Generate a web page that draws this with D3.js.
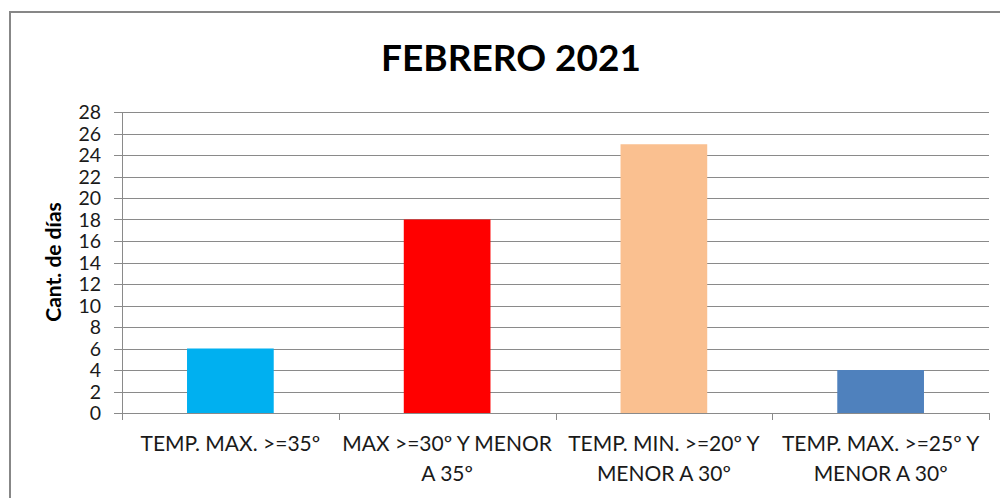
<!DOCTYPE html>
<html>
<head>
<meta charset="utf-8">
<script src="https://cdn.jsdelivr.net/npm/d3@7"></script>
<style>
  html, body { margin: 0; padding: 0; background: #fff; }
  svg { display: block; font-family: Lato, "Open Sans", sans-serif; }
</style>
</head>
<body>
<div id="plot"></div>
<script>
// chart data
const categories = [
    "TEMP. MAX. >=35º",
    "MAX >=30º Y MENOR\nA 35º",
    "TEMP. MIN. >=20º Y\nMENOR A 30º",
    "TEMP. MAX. >=25º Y\nMENOR A 30º"
];
const values = [6, 18, 25, 4];
const barColors = ["#00B0F0", "#FF0000", "#FAC090", "#4F81BD"];
const yTicks = d3.range(0, 29, 2);

const width = 1000;
const height = 498;
const margin = {top: 112, right: 11, bottom: 85, left: 122};

const svg = d3.select("div#plot")
    .append("svg")
    .attr("width", width)
    .attr("height", height);

// outer chart frame (runs off the right and bottom edges)
svg.append("rect")
    .attr("x", 10)
    .attr("y", 12)
    .attr("width", 1100)
    .attr("height", 600)
    .attr("fill", "none")
    .attr("stroke", "#878787")
    .attr("stroke-width", 2);

const x = d3.scaleBand()
    .domain(categories)
    .range([margin.left, width - margin.right])
    .paddingInner(0.6)
    .paddingOuter(0.3);

const y = d3.scaleLinear()
    .domain([0, 28])
    .range([height - margin.bottom, margin.top]);

// gridlines
svg.append("g")
    .selectAll("line")
    .data(yTicks)
    .enter()
    .append("line")
    .attr("x1", margin.left - 8)
    .attr("x2", width - margin.right)
    .attr("y1", d => Math.round(y(d)) + 0.5)
    .attr("y2", d => Math.round(y(d)) + 0.5)
    .style("stroke", "#8a8a8a")
    .style("stroke-width", 1);

// y axis line
svg.append("line")
    .attr("x1", margin.left + 0.5)
    .attr("x2", margin.left + 0.5)
    .attr("y1", y(28))
    .attr("y2", y(0) + 7)
    .style("stroke", "#8a8a8a");

// y tick labels
svg.append("g")
    .selectAll("text")
    .data(yTicks)
    .enter()
    .append("text")
    .attr("x", margin.left - 21)
    .attr("y", d => y(d))
    .attr("dy", "0.36em")
    .attr("text-anchor", "end")
    .style("font-size", "19.5px")
    .style("fill", "#1a1a1a")
    .text(d => d);

// category boundary ticks
const bounds = d3.range(categories.length + 1).map(i => margin.left + i * (width - margin.right - margin.left) / categories.length);
svg.append("g")
    .selectAll("line")
    .data(bounds.slice(1))
    .enter()
    .append("line")
    .attr("x1", d => Math.round(d) + 0.5)
    .attr("x2", d => Math.round(d) + 0.5)
    .attr("y1", y(0))
    .attr("y2", y(0) + 7)
    .style("stroke", "#8a8a8a");

// bars
svg.append("g")
    .selectAll("rect")
    .data(values)
    .enter()
    .append("rect")
    .attr("x", (d, i) => x(categories[i]))
    .attr("y", d => y(d))
    .attr("width", x.bandwidth())
    .attr("height", d => y(0) - y(d))
    .attr("fill", (d, i) => barColors[i]);

// category labels
const catLabels = svg.append("g")
    .selectAll("text")
    .data(categories)
    .enter()
    .append("text")
    .attr("text-anchor", "middle")
    .style("font-size", "21px")
    .style("fill", "#1a1a1a");

catLabels.selectAll("tspan")
    .data(d => d.split("\n").map(line => ({line: line, cat: d})))
    .enter()
    .append("tspan")
    .attr("x", d => x(d.cat) + x.bandwidth() / 2)
    .attr("y", (d, i) => 451 + i * 30)
    .text(d => d.line);

// title
svg.append("text")
    .attr("x", 511)
    .attr("y", 71)
    .attr("text-anchor", "middle")
    .style("font-size", "37px")
    .style("font-weight", "bold")
    .style("fill", "#000")
    .text("FEBRERO 2021");

// y axis title
svg.append("text")
    .attr("transform", "translate(61,262) rotate(-90)")
    .attr("text-anchor", "middle")
    .style("font-size", "21px")
    .style("font-weight", "bold")
    .style("fill", "#000")
    .text("Cant. de días");
</script>
</body>
</html>
